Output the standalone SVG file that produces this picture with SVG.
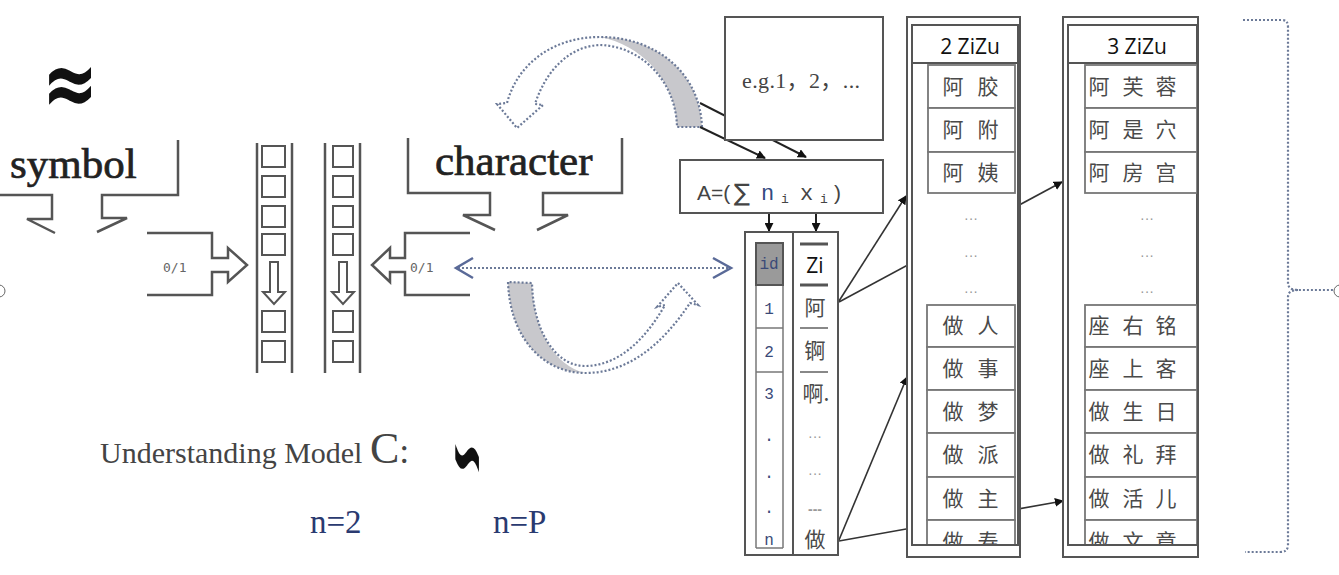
<svg xmlns="http://www.w3.org/2000/svg" width="1339" height="575" viewBox="0 0 1339 575">
<style>
.ln{fill:none;stroke:#555;stroke-width:2.5;stroke-linejoin:miter}
.box{fill:#fff;stroke:#555;stroke-width:2}
.thin{fill:none;stroke:#777;stroke-width:1.5}
.dot{fill:none;stroke:#6c7a98;stroke-width:2.2;stroke-dasharray:2 2}
.serif{font-family:"Liberation Serif","Times New Roman",serif}
.big{font-size:43px;fill:#222;stroke:#222;stroke-width:0.7}
.small01{font-family:"DejaVu Sans Mono","Liberation Mono",monospace;font-size:13px;fill:#666}
.cjk{font-family:"Noto Sans CJK SC",sans-serif;font-size:21px;fill:#4a4a4a;text-anchor:middle}
.hdr{font-family:"Open Sans","Liberation Sans",sans-serif;font-size:21px;fill:#111}
.idt{font-family:"Liberation Mono",monospace;font-size:16px;fill:#3a4a78;text-anchor:middle}
.dots{font-family:"Liberation Sans",sans-serif;font-size:14px;fill:#999;text-anchor:middle}
.tape{fill:#fff;stroke:#555;stroke-width:2}
.cell{fill:#fff;stroke:#777;stroke-width:1.8}
</style>
<defs>
<marker id="ah" viewBox="0 0 10 10" refX="9" refY="5" markerWidth="9" markerHeight="9" markerUnits="userSpaceOnUse" orient="auto"><path d="M0,0 L10,5 L0,10 Z" fill="#111"/></marker>
<clipPath id="c2"><rect x="912" y="25" width="106" height="520"/></clipPath>
<clipPath id="c3"><rect x="1068" y="25" width="129" height="520"/></clipPath>
</defs>
<rect width="1339" height="575" fill="#fff"/>

<g id="edge-marks">
<circle cx="-1" cy="291" r="6" fill="#fff" stroke="#666" stroke-width="1"/>
<circle cx="1340" cy="291" r="6" fill="#fff" stroke="#666" stroke-width="1"/>
</g>

<g id="approx">
<text x="70" y="115" text-anchor="middle" font-family="DejaVu Sans" font-weight="bold" font-size="93" fill="#111" transform="translate(70,88) scale(0.72,1) translate(-70,-88)">≈</text>
</g>

<g id="symbol">
<text x="10" y="178" class="serif big">symbol</text>
<path class="ln" d="M0,195 H52 V219 H27 L55,233"/>
<path class="ln" d="M178,140 V195 H102 V218 H127 L97,232"/>
</g>

<g id="input-left">
<path class="ln" d="M147,233 H212 V258 H228 V248 L247,265 L228,282 V272 H212 V295 H147" stroke-width="2"/>
<text x="163" y="272" class="small01">0/1</text>
</g>

<g id="tape1">
<line x1="257" y1="143" x2="257" y2="373" class="ln" stroke-width="2"/>
<line x1="292" y1="143" x2="292" y2="373" class="ln" stroke-width="2"/>
<rect class="tape" x="262" y="146" width="23" height="21"/>
<rect class="tape" x="262" y="176" width="23" height="21"/>
<rect class="tape" x="262" y="206" width="23" height="21"/>
<rect class="tape" x="262" y="234" width="23" height="21"/>
<rect class="tape" x="262" y="311" width="23" height="21"/>
<rect class="tape" x="262" y="341" width="23" height="21"/>
<path class="tape" d="M270,262 H278 V292 H285 L274,304 L263,292 H270 Z"/>
</g>

<g id="tape2">
<line x1="325" y1="143" x2="325" y2="373" class="ln" stroke-width="2"/>
<line x1="360" y1="143" x2="360" y2="373" class="ln" stroke-width="2"/>
<rect class="tape" x="333" y="146" width="20" height="21"/>
<rect class="tape" x="333" y="176" width="20" height="21"/>
<rect class="tape" x="333" y="206" width="20" height="21"/>
<rect class="tape" x="333" y="234" width="20" height="21"/>
<rect class="tape" x="333" y="311" width="20" height="21"/>
<rect class="tape" x="333" y="341" width="20" height="21"/>
<path class="tape" d="M339,262 H347 V292 H354 L343,304 L332,292 H339 Z"/>
</g>

<g id="character">
<text x="435" y="175" class="serif big">character</text>
<path class="ln" d="M408,138 V193 H490 V215 H463 L495,230"/>
<path class="ln" d="M622,138 V193 H543 V215 H568 L537,230"/>
</g>

<g id="input-right">
<path class="ln" d="M470,233 H405 V258 H390 V248 L372,265 L390,282 V272 H405 V295 H470" stroke-width="2"/>
<text x="410" y="272" class="small01">0/1</text>
</g>

<g id="loop-top">
<path d="M702,127 C700,72 655,37 600,37 C640,44 676,80 677,127 Z" fill="#c8c8cc"/>
<path class="dot" d="M702,127 C700,72 655,37 600,37 C555,37 518,62 507,103 L497,104 L517,128 L543,105 L535,104 C546,70 570,46 600,45 C640,46 676,80 677,127 Z"/>
</g>

<g id="loop-bottom">
<path d="M508,282 C510,340 545,373 585,373 C555,366 533,330 532,283 Z" fill="#c8c8cc"/>
<path class="dot" d="M508,282 C510,340 545,373 585,373 C628,373 662,345 690,303 L698,305 L678,283 L657,307 L665,305 C645,340 618,366 585,366 C555,366 533,330 532,283 Z"/>
</g>

<g id="connectors">
<line x1="458" y1="268" x2="729" y2="268" class="dot"/>
<path d="M473,258 L456,268 L473,278 M713,258 L731,268 L713,278" fill="none" stroke="#5a6a98" stroke-width="2.5"/>
<line x1="700" y1="103" x2="806" y2="157" stroke="#222" stroke-width="2" marker-end="url(#ah)"/>
<line x1="700" y1="127" x2="765" y2="158" stroke="#222" stroke-width="2" marker-end="url(#ah)"/>
<line x1="769" y1="213" x2="769" y2="231" stroke="#222" stroke-width="2" marker-end="url(#ah)"/>
<line x1="816" y1="213" x2="816" y2="231" stroke="#222" stroke-width="2" marker-end="url(#ah)"/>
<line x1="839" y1="301" x2="906" y2="196" stroke="#333" stroke-width="1.6" marker-end="url(#ah)"/>
<line x1="839" y1="302" x2="1062" y2="182" stroke="#333" stroke-width="1.6" marker-end="url(#ah)"/>
<line x1="839" y1="540" x2="907" y2="377" stroke="#333" stroke-width="1.6" marker-end="url(#ah)"/>
<line x1="839" y1="541" x2="1063" y2="501" stroke="#333" stroke-width="1.6" marker-end="url(#ah)"/>
</g>

<g id="eg-box">
<rect class="box" x="725" y="17" width="158" height="123"/>
<text x="742" y="88" font-size="22" fill="#444" font-family="Liberation Serif,Noto Sans CJK SC,serif" textLength="118" lengthAdjust="spacing">e.g.1，2，...</text>
</g>

<g id="formula-box">
<rect class="box" x="680" y="160" width="203" height="53"/>
<text y="200" font-family="Liberation Sans,DejaVu Sans,sans-serif" font-size="21" fill="#444"><tspan x="697">A=(</tspan><tspan x="734" font-family="DejaVu Sans" font-size="24" y="201">∑</tspan><tspan x="761" y="200" font-family="Liberation Mono" fill="#334a80" font-size="22">n</tspan><tspan x="781" y="203" font-size="13" font-family="Liberation Mono">i</tspan><tspan x="800" y="200" font-family="Liberation Mono" font-size="22">x</tspan><tspan x="820" y="203" font-size="13" font-family="Liberation Mono">i</tspan><tspan x="834" y="200">)</tspan></text>
</g>

<g id="id-column">
<rect class="box" x="745" y="232" width="48" height="323"/>
<line x1="756" y1="243" x2="756" y2="548" class="thin"/>
<line x1="783" y1="243" x2="783" y2="548" class="thin"/>
<line x1="756" y1="548" x2="783" y2="548" class="thin"/>
<rect x="756" y="243" width="27" height="42" fill="#9a9a9a" stroke="#555" stroke-width="2"/>
<text x="769" y="269" class="idt" font-size="13" fill="#333">id</text>
<line x1="756" y1="328" x2="783" y2="328" class="thin" stroke-width="2.5"/>
<line x1="756" y1="372" x2="783" y2="372" class="thin" stroke-width="2.5"/>
<text x="769" y="314" class="idt">1</text>
<text x="769" y="357" class="idt">2</text>
<text x="769" y="399" class="idt">3</text>
<text x="769" y="441" class="idt">.</text>
<text x="769" y="478" class="idt">.</text>
<text x="769" y="513" class="idt">.</text>
<text x="769" y="545" class="idt" font-size="15">n</text>
</g>

<g id="zi-column">
<rect class="box" x="793" y="232" width="45" height="323"/>
<line x1="800" y1="244" x2="828" y2="244" stroke="#555" stroke-width="3"/>
<line x1="800" y1="285" x2="828" y2="285" stroke="#555" stroke-width="3"/>
<line x1="800" y1="328" x2="828" y2="328" stroke="#888" stroke-width="2"/>
<line x1="800" y1="372" x2="828" y2="372" stroke="#888" stroke-width="2"/>
<rect x="802" y="250" width="25" height="30" fill="#fff"/>
<text x="815" y="273" class="hdr" text-anchor="middle" font-size="19">Zi</text>
<text x="815" y="315" class="cjk">阿</text>
<text x="815" y="358" class="cjk">锕</text>
<text x="816" y="401" class="cjk">啊.</text>
<text x="815" y="441" class="dots">···</text>
<text x="815" y="478" class="dots">···</text>
<text x="815" y="514" class="dots" fill="#222" font-weight="bold">---</text>
<text x="815" y="547" class="cjk">做</text>
</g>

<g id="zizu2">
<rect class="box" x="907" y="17" width="113" height="540"/>
<rect class="box" x="912" y="25" width="106" height="520"/>
<rect class="box" x="912" y="25" width="106" height="38"/>
<text x="970" y="54" class="hdr" text-anchor="middle">2 ZiZu</text>
<g clip-path="url(#c2)">
<rect class="cell" x="928" y="65" width="87" height="43"/>
<rect class="cell" x="928" y="108" width="87" height="44"/>
<rect class="cell" x="928" y="152" width="87" height="41"/>
<text y="94" class="cjk"><tspan x="953">阿</tspan><tspan x="988">胶</tspan></text>
<text y="137" class="cjk"><tspan x="953">阿</tspan><tspan x="988">附</tspan></text>
<text y="180" class="cjk"><tspan x="953">阿</tspan><tspan x="988">姨</tspan></text>
<text x="971" y="223" class="dots">···</text>
<text x="971" y="260" class="dots">···</text>
<text x="971" y="296" class="dots">···</text>
<rect class="cell" x="927" y="305" width="88" height="42"/>
<rect class="cell" x="927" y="347" width="88" height="43"/>
<rect class="cell" x="927" y="390" width="88" height="43"/>
<rect class="cell" x="927" y="433" width="88" height="44"/>
<rect class="cell" x="927" y="477" width="88" height="43"/>
<rect class="cell" x="927" y="520" width="88" height="40"/>
<text y="333" class="cjk"><tspan x="953">做</tspan><tspan x="988">人</tspan></text>
<text y="376" class="cjk"><tspan x="953">做</tspan><tspan x="988">事</tspan></text>
<text y="419" class="cjk"><tspan x="953">做</tspan><tspan x="988">梦</tspan></text>
<text y="462" class="cjk"><tspan x="953">做</tspan><tspan x="988">派</tspan></text>
<text y="506" class="cjk"><tspan x="953">做</tspan><tspan x="988">主</tspan></text>
<text y="549" class="cjk"><tspan x="953">做</tspan><tspan x="988">寿</tspan></text>
</g>
<line x1="912" y1="545" x2="1018" y2="545" stroke="#555" stroke-width="2"/>
</g>

<g id="zizu3">
<rect class="box" x="1063" y="17" width="135" height="540"/>
<rect class="box" x="1068" y="25" width="129" height="520"/>
<rect class="box" x="1068" y="25" width="129" height="38"/>
<text x="1137" y="54" class="hdr" text-anchor="middle">3 ZiZu</text>
<g clip-path="url(#c3)">
<rect class="cell" x="1085" y="65" width="112" height="43"/>
<rect class="cell" x="1085" y="108" width="112" height="44"/>
<rect class="cell" x="1085" y="152" width="112" height="41"/>
<text y="94" class="cjk"><tspan x="1099">阿</tspan><tspan x="1133">芙</tspan><tspan x="1166">蓉</tspan></text>
<text y="137" class="cjk"><tspan x="1099">阿</tspan><tspan x="1133">是</tspan><tspan x="1166">穴</tspan></text>
<text y="180" class="cjk"><tspan x="1099">阿</tspan><tspan x="1133">房</tspan><tspan x="1166">宫</tspan></text>
<text x="1147" y="223" class="dots">···</text>
<text x="1147" y="260" class="dots">···</text>
<text x="1147" y="296" class="dots">···</text>
<rect class="cell" x="1085" y="305" width="112" height="42"/>
<rect class="cell" x="1085" y="347" width="112" height="43"/>
<rect class="cell" x="1085" y="390" width="112" height="43"/>
<rect class="cell" x="1085" y="433" width="112" height="44"/>
<rect class="cell" x="1085" y="477" width="112" height="43"/>
<rect class="cell" x="1085" y="520" width="112" height="40"/>
<text y="333" class="cjk"><tspan x="1099">座</tspan><tspan x="1133">右</tspan><tspan x="1166">铭</tspan></text>
<text y="376" class="cjk"><tspan x="1099">座</tspan><tspan x="1133">上</tspan><tspan x="1166">客</tspan></text>
<text y="419" class="cjk"><tspan x="1099">做</tspan><tspan x="1133">生</tspan><tspan x="1166">日</tspan></text>
<text y="462" class="cjk"><tspan x="1099">做</tspan><tspan x="1133">礼</tspan><tspan x="1166">拜</tspan></text>
<text y="506" class="cjk"><tspan x="1099">做</tspan><tspan x="1133">活</tspan><tspan x="1166">儿</tspan></text>
<text y="549" class="cjk"><tspan x="1099">做</tspan><tspan x="1133">文</tspan><tspan x="1166">章</tspan></text>
</g>
<line x1="1068" y1="545" x2="1197" y2="545" stroke="#555" stroke-width="2"/>
</g>

<g id="brace">
<path class="dot" d="M1243,20 H1282 Q1288,20 1288,27 V283 Q1288,290 1298,290 H1333 M1298,290 Q1288,290 1288,297 V545 Q1288,552 1280,552 H1245"/>
</g>

<g id="model-label">
<text x="100" y="463" class="serif" font-size="30" fill="#444">Understanding Model <tspan font-size="44">C</tspan><tspan font-size="36">:</tspan></text>
<text x="467" y="466" text-anchor="middle" font-family="DejaVu Sans" font-size="44" fill="#111" stroke="#111" stroke-width="1.2" transform="translate(467,449) scale(0.82,2.8) translate(-467,-449)">∽</text>
<text x="310" y="533" class="serif" font-size="33" fill="#2a3a70">n=2</text>
<text x="493" y="533" class="serif" font-size="33" fill="#2a3a70">n=P</text>
</g>
</svg>
